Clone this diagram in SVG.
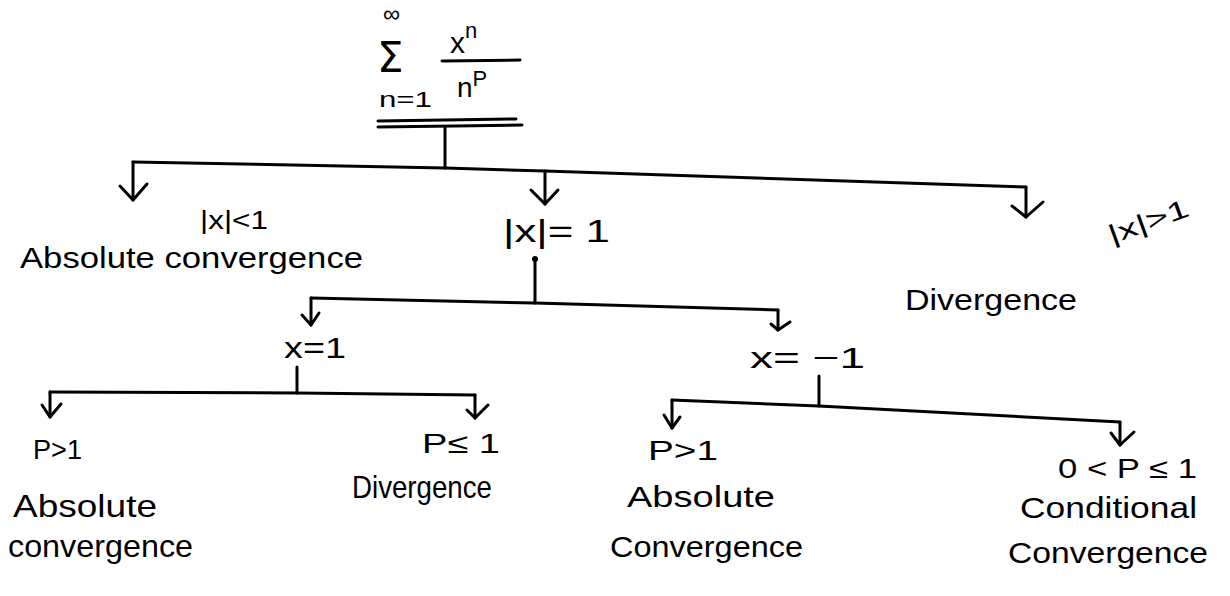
<svg xmlns="http://www.w3.org/2000/svg" width="1230" height="596" viewBox="0 0 1230 596">
<defs>
<style>
.t{font-family:"Liberation Sans",Arial,sans-serif;fill:#000;font-size:30px}
.ln{stroke:#000;stroke-width:3;fill:none;stroke-linecap:round;stroke-linejoin:round}
.ah{stroke:#000;stroke-width:3;fill:none;stroke-linecap:round;stroke-linejoin:round}
</style>
</defs>
<rect width="1230" height="596" fill="#fff"/>

<g id="root">
<text class="t" x="377" y="72" style="font-size:42px;font-family:'DejaVu Sans',sans-serif">Σ</text>
<text class="t" x="383" y="22" style="font-size:24px">∞</text>
<text class="t" x="379" y="107" style="font-size:22px" textLength="53" lengthAdjust="spacingAndGlyphs">n=1</text>
<text class="t" x="450" y="53" style="font-size:30px">x<tspan style="font-size:22px" dy="-15">n</tspan></text>
<line class="ln" x1="442" y1="61" x2="520" y2="60"/>
<text class="t" x="457" y="97" style="font-size:28px">n<tspan style="font-size:22px" dy="-11">P</tspan></text>
<line class="ln" x1="378" y1="121" x2="516" y2="119"/>
<line class="ln" x1="378" y1="127" x2="522" y2="125"/>
</g>

<g id="connectors">
<line class="ln" x1="445" y1="128" x2="445" y2="168"/>
<polyline class="ln" points="133,162 445,168 545,171 1026,187"/>
<line class="ln" x1="133" y1="162" x2="133" y2="200"/>
<polyline class="ah" points="120,186 133,200 147,184"/>
<line class="ln" x1="545" y1="171" x2="545" y2="204"/>
<polyline class="ah" points="531,190 545,204 558,190"/>
<line class="ln" x1="1026" y1="187" x2="1026" y2="217"/>
<polyline class="ah" points="1012,206 1026,217 1043,202"/>

<line class="ln" x1="535" y1="259" x2="535" y2="303"/>
<circle cx="535" cy="259" r="3" fill="#000"/>
<polyline class="ln" points="311,298 535,303 778,310"/>
<line class="ln" x1="311" y1="298" x2="311" y2="325"/>
<polyline class="ah" points="302,315 311,325 319,313"/>
<line class="ln" x1="778" y1="310" x2="778" y2="330"/>
<polyline class="ah" points="771,324 778,330 790,322"/>

<line class="ln" x1="297" y1="367" x2="297" y2="393"/>
<polyline class="ln" points="50,392 297,393 475,395"/>
<line class="ln" x1="50" y1="392" x2="50" y2="417"/>
<polyline class="ah" points="42,405 50,417 61,404"/>
<line class="ln" x1="475" y1="395" x2="475" y2="418"/>
<polyline class="ah" points="467,410 475,418 488,405"/>

<line class="ln" x1="819" y1="376" x2="819" y2="406"/>
<polyline class="ln" points="672,400 819,406 1120,422"/>
<line class="ln" x1="672" y1="400" x2="672" y2="428"/>
<polyline class="ah" points="664,415 672,428 680,417"/>
<line class="ln" x1="1120" y1="422" x2="1120" y2="445"/>
<polyline class="ah" points="1111,433 1120,445 1134,432"/>
</g>

<g id="n_abs">
<text class="t" x="200" y="229" style="font-size:26px" textLength="68" lengthAdjust="spacingAndGlyphs">|x|&lt;1</text>
<text class="t" x="20" y="268" textLength="343" lengthAdjust="spacingAndGlyphs">Absolute convergence</text>
</g>
<g id="n_eq">
<text class="t" x="503" y="242" style="font-size:32px" textLength="107" lengthAdjust="spacingAndGlyphs">|x|= 1</text>
</g>
<g id="n_div">
<text class="t" x="1106" y="230" style="font-size:26px" transform="rotate(-20 1149 220)" textLength="84" lengthAdjust="spacingAndGlyphs">|x|&gt;1</text>
<text class="t" x="905" y="310" textLength="172" lengthAdjust="spacingAndGlyphs">Divergence</text>
</g>
<g id="n_x1">
<text class="t" x="284" y="358" textLength="62" lengthAdjust="spacingAndGlyphs">x=1</text>
</g>
<g id="n_xm1">
<text class="t" x="750" y="368" textLength="115" lengthAdjust="spacingAndGlyphs">x= −1</text>
</g>
<g id="n_a1">
<text class="t" x="33" y="459" style="font-size:28px" textLength="49" lengthAdjust="spacingAndGlyphs">P&gt;1</text>
<text class="t" x="13" y="517" style="font-size:32px" textLength="144" lengthAdjust="spacingAndGlyphs">Absolute</text>
<text class="t" x="8" y="557" style="font-size:32px" textLength="185" lengthAdjust="spacingAndGlyphs">convergence</text>
</g>
<g id="n_d1">
<text class="t" x="422" y="453" style="font-size:28px" textLength="78" lengthAdjust="spacingAndGlyphs">P≤ 1</text>
<text class="t" x="352" y="498" style="font-size:32px" textLength="140" lengthAdjust="spacingAndGlyphs">Divergence</text>
</g>
<g id="n_a2">
<text class="t" x="648" y="460" style="font-size:28px" textLength="70" lengthAdjust="spacingAndGlyphs">P&gt;1</text>
<text class="t" x="627" y="507" textLength="148" lengthAdjust="spacingAndGlyphs">Absolute</text>
<text class="t" x="610" y="557" textLength="193" lengthAdjust="spacingAndGlyphs">Convergence</text>
</g>
<g id="n_c2">
<text class="t" x="1058" y="478" style="font-size:28px" textLength="139" lengthAdjust="spacingAndGlyphs">0 &lt; P ≤ 1</text>
<text class="t" x="1020" y="518" textLength="177" lengthAdjust="spacingAndGlyphs">Conditional</text>
<text class="t" x="1008" y="563" textLength="200" lengthAdjust="spacingAndGlyphs">Convergence</text>
</g>
</svg>
